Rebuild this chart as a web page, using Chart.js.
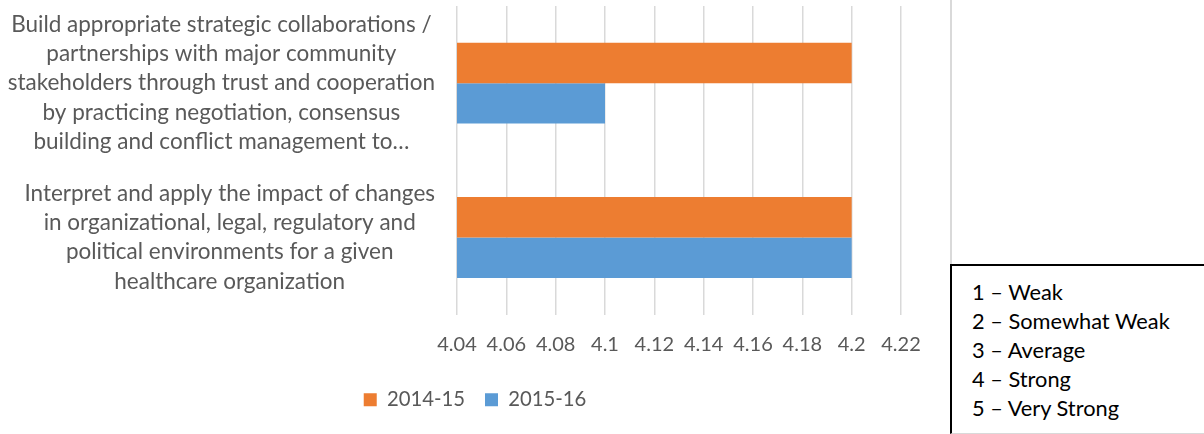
<!DOCTYPE html>
<html>
<head>
<meta charset="utf-8">
<script src="https://cdn.jsdelivr.net/npm/chart.js@4.4.1/dist/chart.umd.min.js"></script>
<style>
  html, body { margin: 0; padding: 0; background: #fff; }
  #wrap { position: absolute; left: 0; top: 0; width: 950px; height: 434px; }
  #vline { position: absolute; left: 950px; top: 0; width: 2px; height: 265px; background: #d9d9d9; }
  #scale { position: absolute; left: 950px; top: 264px; width: 260px; height: 170px; border: 2px solid #000; box-sizing: border-box; border-right: none; border-bottom: 1px solid #d9d9d9;
           font-family: Lato, sans-serif; font-size: 21.8px; color: #000; padding: 11px 0 0 20px; line-height: 29px; }
</style>
</head>
<body>
<div id="wrap"><canvas id="c"></canvas></div>
<div id="vline"></div>
<div id="scale">
  <div>1 – Weak</div>
  <div>2 – Somewhat Weak</div>
  <div>3 – Average</div>
  <div>4 – Strong</div>
  <div>5 – Very Strong</div>
</div>
<script>
const categories = [
  ["Build appropriate strategic collaborations /", "partnerships with major community", "stakeholders through trust and cooperation", "by practicing negotiation, consensus", "building and conflict management to…"],
  ["Interpret and apply the impact of changes", "in organizational, legal, regulatory and", "political environments for a given", "healthcare organization"]
];
const seriesNames = ["2014-15", "2015-16"];
const values2014 = [4.2, 4.2];
const values2015 = [4.1, 4.2];
const xTickLabels = ["4.04", "4.06", "4.08", "4.1", "4.12", "4.14", "4.16", "4.18", "4.2", "4.22"];
const xMin = 4.04, xMax = 4.22, xStep = 0.02;

const FONT = "Lato";
const gray = "#595959";
const Y_PAD = 22;

// Excel-style: each category label block is right-aligned to the axis, its lines centred within the block
const labelBlockAlign = {
  id: 'labelBlockAlign',
  beforeDraw(chart) {
    const s = chart.scales.y;
    const items = s.getLabelItems();
    const ctx = chart.ctx;
    ctx.save();
    items.forEach(it => {
      ctx.font = it.font.string;
      const lines = Array.isArray(it.label) ? it.label : [it.label];
      const w = Math.max(...lines.map(l => ctx.measureText(l).width));
      it.options.textAlign = 'center';
      it.options.translation[0] = s.right - Y_PAD - w / 2;
    });
    ctx.restore();
  }
};

new Chart(document.getElementById('c'), {
  type: 'bar',
  data: {
    labels: categories,
    datasets: [
      { label: seriesNames[0], data: values2014, backgroundColor: "#ED7D31", borderWidth: 0 },
      { label: seriesNames[1], data: values2015, backgroundColor: "#5B9BD5", borderWidth: 0 }
    ]
  },
  plugins: [labelBlockAlign],
  options: {
    indexAxis: 'y',
    responsive: true,
    maintainAspectRatio: false,
    animation: false,
    layout: { padding: { top: 6, right: 0, left: 0, bottom: 14 } },
    datasets: { bar: { categoryPercentage: 0.524, barPercentage: 1 } },
    scales: {
      x: {
        min: xMin, max: xMax,
        afterFit: (s) => { s.height = 55; s.paddingLeft = 0; s.paddingRight = 49; },
        ticks: { stepSize: xStep, color: gray, font: { family: FONT, size: 20 }, padding: 18,
                 maxRotation: 0, minRotation: 0, autoSkip: false,
                 callback: (v, i) => xTickLabels[i] },
        grid: { color: "#d9d9d9", lineWidth: 1.5, drawTicks: false },
        border: { display: false }
      },
      y: {
        afterFit: (s) => { s.width = 457; s.paddingTop = 0; s.paddingBottom = 0; },
        ticks: { color: gray, font: { family: FONT, size: 22.5, lineHeight: 1.3 }, crossAlign: 'center', padding: Y_PAD, autoSkip: false },
        grid: { display: false },
        border: { display: false }
      }
    },
    plugins: {
      legend: {
        position: 'bottom',
        labels: { boxWidth: 13, boxHeight: 13, color: gray, font: { family: FONT, size: 20.3 }, padding: 20 }
      },
      tooltip: { enabled: false }
    }
  }
});
</script>
</body>
</html>
